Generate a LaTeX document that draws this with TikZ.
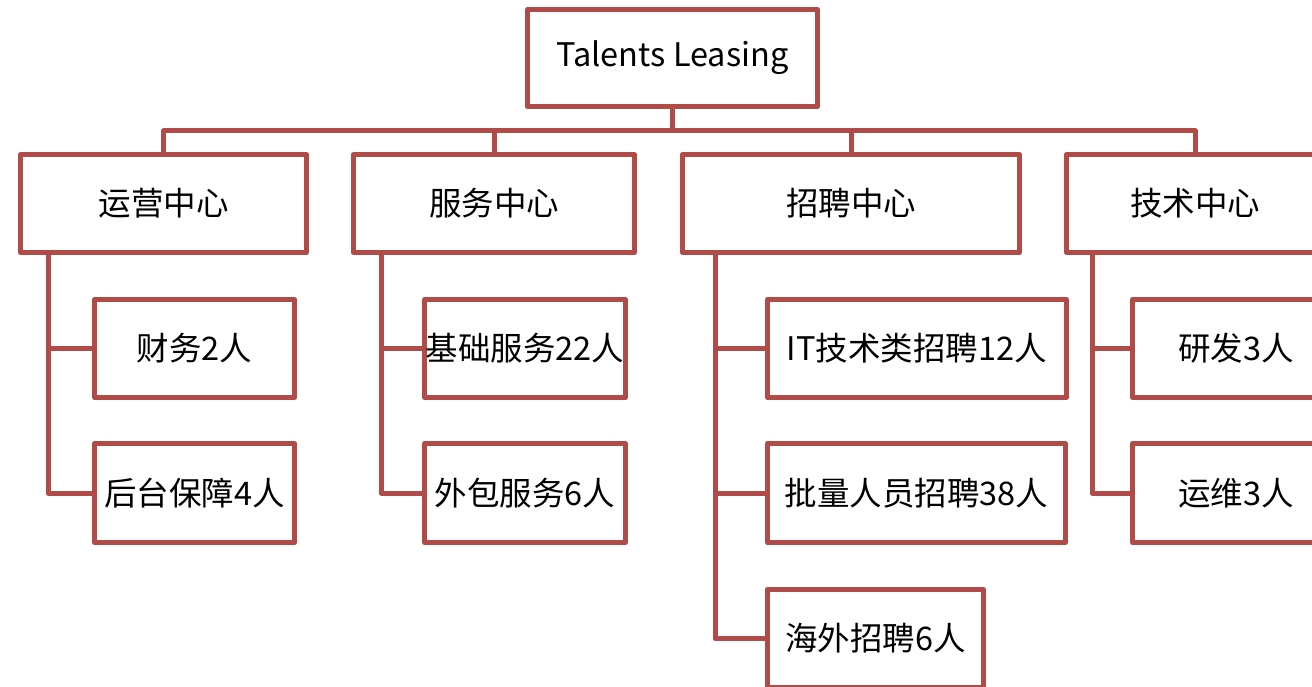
\documentclass[tikz,border=0pt]{standalone}
\usepackage{fontspec}
\setmainfont{Noto Sans CJK SC}
\definecolor{frame}{RGB}{176,75,72}
\begin{document}
\begin{tikzpicture}[x=1pt,y=-1pt,
  box/.style={draw=frame, line width=5pt, line join=round, fill=white, rectangle, inner sep=0pt,
    font=\fontsize{32.5}{38}\selectfont, text=black},
  link/.style={draw=frame, line width=5pt, line join=round, line cap=round}]
\useasboundingbox (0,0) rectangle (1312,687);
% level 0
\node[box, minimum width=290, minimum height=97] (root) at (672.5,58) {Talents Leasing};
% level 1
\node[box, minimum width=286, minimum height=98] (yy) at (163.5,203.5) {运营中心};
\node[box, minimum width=281, minimum height=98] (fw) at (494,203.5) {服务中心};
\node[box, minimum width=337, minimum height=98] (zp) at (851,203.5) {招聘中心};
\node[box, minimum width=257, minimum height=98] (js) at (1195,203.5) {技术中心};
% level 2
\node[box, minimum width=200, minimum height=98] (cw) at (194.5,348.5) {财务2人};
\node[box, minimum width=200, minimum height=99] (ht) at (194.5,493) {后台保障4人};
\node[box, minimum width=201, minimum height=98] (jc) at (525,348.5) {基础服务22人};
\node[box, minimum width=201, minimum height=99] (wb) at (525,493) {外包服务6人};
\node[box, minimum width=299, minimum height=98] (it) at (917,348.5) {IT技术类招聘12人};
\node[box, minimum width=298, minimum height=99] (pl) at (916.5,493) {批量人员招聘38人};
\node[box, minimum width=216, minimum height=98] (hw) at (875.5,638.5) {海外招聘6人};
\node[box, minimum width=207, minimum height=98] (yf) at (1236,348.5) {研发3人};
\node[box, minimum width=207, minimum height=99] (yw) at (1236,493) {运维3人};
% connectors
\coordinate (bus) at (0,131);
\draw[link] (root.south) -- (root.south |- bus) -| (yy.north);
\draw[link] (root.south |- bus) -| (fw.north);
\draw[link] (root.south |- bus) -| (zp.north);
\draw[link] (root.south |- bus) -| (js.north);
\coordinate (tyy) at (48,255);
\coordinate (tfw) at (381,255);
\coordinate (tzp) at (715,255);
\coordinate (tjs) at (1092,255);
\draw[link] (tyy) |- (cw.west);
\draw[link] (tyy) |- (ht.west);
\draw[link] (tfw) |- (jc.west);
\draw[link] (tfw) |- (wb.west);
\draw[link] (tzp) |- (it.west);
\draw[link] (tzp) |- (pl.west);
\draw[link] (tzp) |- (hw.west);
\draw[link] (tjs) |- (yf.west);
\draw[link] (tjs) |- (yw.west);
\end{tikzpicture}
\end{document}
